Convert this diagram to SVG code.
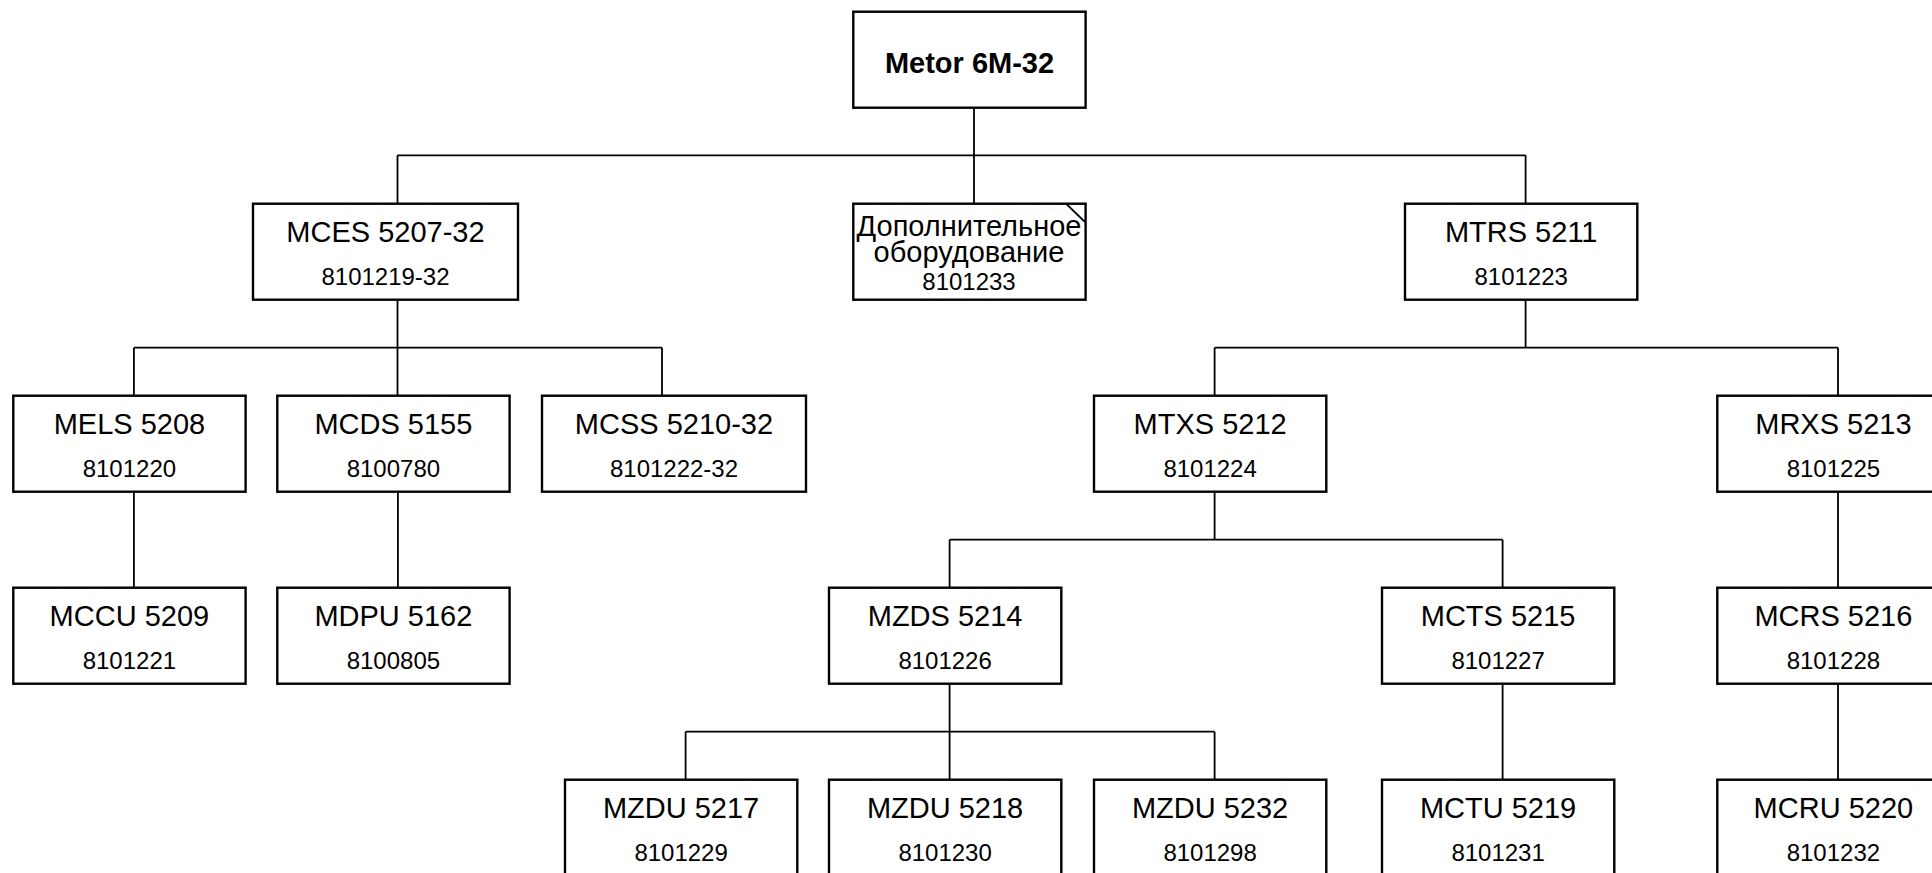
<svg xmlns="http://www.w3.org/2000/svg" width="1932" height="873" viewBox="0 0 1932 873">
<style>
.box{fill:#fff;stroke:#000;stroke-width:2.4}
.t{font-family:"Liberation Sans",Arial,sans-serif;font-size:29px;fill:#000;text-anchor:middle}
.n{font-family:"Liberation Sans",Arial,sans-serif;font-size:24px;fill:#000;text-anchor:middle}
.b{font-weight:bold}
.c{stroke:#000;stroke-width:1.8;fill:none}
</style>
<rect width="1932" height="873" fill="#fff"/>
<g id="connectors" class="c">
<path d="M974 107.7V203.7"/>
<path d="M397.5 155.3H1525.6M397.5 155.3V203.7M1525.6 155.3V203.7"/>
<path d="M397.5 299.7V395.7M133.9 347.7H662M133.9 347.7V395.7M662 347.7V395.7"/>
<path d="M1525.6 299.7V347.7M1214.6 347.7H1838M1214.6 347.7V395.7M1838 347.7V395.7"/>
<path d="M133.9 491.7V587.7M397.9 491.7V587.7M1838 491.7V587.7"/>
<path d="M1214.6 491.7V539.7M949.6 539.7H1502.6M949.6 539.7V587.7M1502.6 539.7V587.7"/>
<path d="M949.6 683.7V779.7M685.6 731.7H1214.6M685.6 731.7V779.7M1214.6 731.7V779.7"/>
<path d="M1502.6 683.7V779.7M1838 683.7V779.7"/>
</g>
<g id="metor"><rect class="box" x="853.3" y="11.7" width="232.3" height="96"/><text class="t b" x="969.5" y="73.3">Metor 6M-32</text></g>
<g id="mces"><rect class="box" x="253" y="203.7" width="265" height="96"/><text class="t" x="385.5" y="241.7">MCES 5207-32</text><text class="n" x="385.5" y="284.7">8101219-32</text></g>
<g id="dop"><rect class="box" x="853.3" y="203.7" width="232.3" height="96"/><path class="c" d="M1066 203.7L1085 222"/><text class="t" x="969" y="236">Дополнительное</text><text class="t" x="969" y="262">оборудование</text><text class="n" x="969" y="290">8101233</text></g>
<g id="mtrs"><rect class="box" x="1405" y="203.7" width="232.3" height="96"/><text class="t" x="1521.2" y="241.7">MTRS 5211</text><text class="n" x="1521.2" y="284.7">8101223</text></g>
<g id="mels"><rect class="box" x="13.3" y="395.7" width="232.3" height="96"/><text class="t" x="129.4" y="433.7">MELS 5208</text><text class="n" x="129.4" y="476.7">8101220</text></g>
<g id="mcds"><rect class="box" x="277.3" y="395.7" width="232.3" height="96"/><text class="t" x="393.4" y="433.7">MCDS 5155</text><text class="n" x="393.4" y="476.7">8100780</text></g>
<g id="mcss"><rect class="box" x="542" y="395.7" width="264" height="96"/><text class="t" x="674" y="433.7">MCSS 5210-32</text><text class="n" x="674" y="476.7">8101222-32</text></g>
<g id="mtxs"><rect class="box" x="1094" y="395.7" width="232.3" height="96"/><text class="t" x="1210.1" y="433.7">MTXS 5212</text><text class="n" x="1210.1" y="476.7">8101224</text></g>
<g id="mrxs"><rect class="box" x="1717.3" y="395.7" width="232.3" height="96"/><text class="t" x="1833.4" y="433.7">MRXS 5213</text><text class="n" x="1833.4" y="476.7">8101225</text></g>
<g id="mccu"><rect class="box" x="13.3" y="587.7" width="232.3" height="96"/><text class="t" x="129.4" y="625.7">MCCU 5209</text><text class="n" x="129.4" y="668.7">8101221</text></g>
<g id="mdpu"><rect class="box" x="277.3" y="587.7" width="232.3" height="96"/><text class="t" x="393.4" y="625.7">MDPU 5162</text><text class="n" x="393.4" y="668.7">8100805</text></g>
<g id="mzds"><rect class="box" x="829" y="587.7" width="232.3" height="96"/><text class="t" x="945.1" y="625.7">MZDS 5214</text><text class="n" x="945.1" y="668.7">8101226</text></g>
<g id="mcts"><rect class="box" x="1382" y="587.7" width="232.3" height="96"/><text class="t" x="1498.1" y="625.7">MCTS 5215</text><text class="n" x="1498.1" y="668.7">8101227</text></g>
<g id="mcrs"><rect class="box" x="1717.3" y="587.7" width="232.3" height="96"/><text class="t" x="1833.4" y="625.7">MCRS 5216</text><text class="n" x="1833.4" y="668.7">8101228</text></g>
<g id="mzdu5217"><rect class="box" x="565" y="779.7" width="232.3" height="96"/><text class="t" x="681.1" y="817.7">MZDU 5217</text><text class="n" x="681.1" y="860.7">8101229</text></g>
<g id="mzdu5218"><rect class="box" x="829" y="779.7" width="232.3" height="96"/><text class="t" x="945.1" y="817.7">MZDU 5218</text><text class="n" x="945.1" y="860.7">8101230</text></g>
<g id="mzdu5232"><rect class="box" x="1094" y="779.7" width="232.3" height="96"/><text class="t" x="1210.1" y="817.7">MZDU 5232</text><text class="n" x="1210.1" y="860.7">8101298</text></g>
<g id="mctu"><rect class="box" x="1382" y="779.7" width="232.3" height="96"/><text class="t" x="1498.1" y="817.7">MCTU 5219</text><text class="n" x="1498.1" y="860.7">8101231</text></g>
<g id="mcru"><rect class="box" x="1717.3" y="779.7" width="232.3" height="96"/><text class="t" x="1833.4" y="817.7">MCRU 5220</text><text class="n" x="1833.4" y="860.7">8101232</text></g>
</svg>
